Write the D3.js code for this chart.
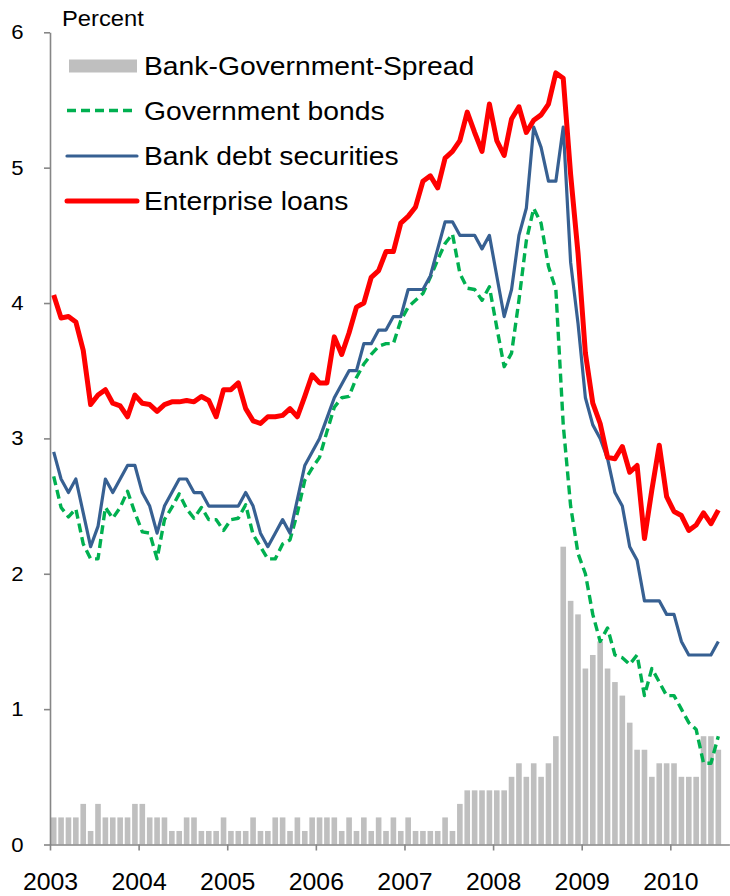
<!DOCTYPE html>
<html>
<head>
<meta charset="utf-8">
<script src="https://cdn.jsdelivr.net/npm/d3@7"></script>
<style>
  body { margin: 0; background: #fff; }
  svg { display: block; font-family: "Liberation Sans", Arial, sans-serif; }
</style>
</head>
<body>
<div id="chart"></div>
<script>
// monthly values, Jan 2003 - Jul 2010 (91 months), percent
var spread = [
  0.2,0.2,0.2,0.2,0.3,0.1,0.3,0.2,0.2,0.2,0.2,0.3,
  0.3,0.2,0.2,0.2,0.1,0.1,0.2,0.2,0.1,0.1,0.1,0.2,
  0.1,0.1,0.1,0.2,0.1,0.1,0.2,0.2,0.1,0.2,0.1,0.2,
  0.2,0.2,0.2,0.1,0.2,0.1,0.2,0.1,0.2,0.1,0.2,0.1,
  0.2,0.1,0.1,0.1,0.1,0.2,0.1,0.3,0.4,0.4,0.4,0.4,
  0.4,0.4,0.5,0.6,0.5,0.6,0.5,0.6,0.8,2.2,1.8,1.7,
  1.3,1.4,1.5,1.3,1.2,1.1,0.9,0.7,0.7,0.5,0.6,0.6,
  0.6,0.5,0.5,0.5,0.8,0.8,0.7
];
var govBonds = [
  2.72,2.49,2.42,2.48,2.22,2.11,2.11,2.49,2.41,2.49,2.61,2.45,
  2.31,2.30,2.11,2.40,2.49,2.59,2.48,2.41,2.49,2.40,2.40,2.32,
  2.40,2.41,2.51,2.29,2.20,2.11,2.11,2.22,2.25,2.45,2.69,2.78,
  2.86,3.05,3.23,3.30,3.31,3.45,3.55,3.62,3.68,3.70,3.70,3.87,
  3.97,4.02,4.07,4.19,4.32,4.44,4.51,4.22,4.11,4.10,4.02,4.12,
  3.82,3.53,3.63,4.02,4.46,4.70,4.59,4.27,4.10,3.10,2.50,2.15,
  2.00,1.70,1.50,1.60,1.40,1.38,1.33,1.40,1.10,1.30,1.20,1.10,
  1.10,1.00,0.90,0.85,0.60,0.60,0.80
];
var bankDebt = [
  2.9,2.7,2.6,2.7,2.45,2.2,2.35,2.7,2.6,2.7,2.8,2.8,
  2.6,2.5,2.3,2.5,2.6,2.7,2.7,2.6,2.6,2.5,2.5,2.5,
  2.5,2.5,2.6,2.5,2.3,2.2,2.3,2.4,2.3,2.55,2.8,2.9,
  3.0,3.15,3.3,3.4,3.5,3.5,3.7,3.7,3.8,3.8,3.9,3.9,
  4.1,4.1,4.1,4.2,4.4,4.6,4.6,4.5,4.5,4.5,4.4,4.5,
  4.2,3.9,4.1,4.5,4.7,5.3,5.15,4.9,4.9,5.3,4.3,3.85,
  3.3,3.1,3.0,2.85,2.6,2.5,2.2,2.1,1.8,1.8,1.8,1.7,
  1.7,1.5,1.4,1.4,1.4,1.4,1.5
];
var enterpriseLoans = [
  4.06,3.89,3.90,3.86,3.65,3.25,3.32,3.36,3.26,3.24,3.16,3.32,
  3.26,3.25,3.20,3.25,3.27,3.27,3.28,3.27,3.31,3.28,3.16,3.36,
  3.36,3.41,3.22,3.13,3.11,3.16,3.16,3.17,3.22,3.16,3.31,3.47,
  3.41,3.41,3.75,3.62,3.78,3.97,4.00,4.19,4.24,4.38,4.38,4.59,
  4.64,4.71,4.90,4.94,4.85,5.07,5.12,5.20,5.41,5.26,5.12,5.47,
  5.20,5.09,5.36,5.45,5.26,5.35,5.39,5.47,5.70,5.66,4.95,4.37,
  3.63,3.26,3.11,2.86,2.85,2.94,2.75,2.80,2.26,2.62,2.95,2.57,
  2.46,2.43,2.32,2.36,2.45,2.37,2.47
];
var yearLabels = ["2003","2004","2005","2006","2007","2008","2009","2010"];
var yTicks = [0, 1, 2, 3, 4, 5, 6];
var legendNames = ["Bank-Government-Spread", "Government bonds", "Bank debt securities", "Enterprise loans"];

var width = 730, height = 896;
var stretch = 1.08; // the reference text is drawn a little wide
var axisGrey = '#868686';

var svg = d3.select('#chart').append('svg')
    .attr('width', width)
    .attr('height', height);

// month index scale, one slot per month (plus one empty slot at the end)
var x = d3.scaleLinear().domain([0, 92]).range([50, 729.4]);
var y = d3.scaleLinear().domain([0, 6]).range([844.5, 32.3]);
var slot = x(1) - x(0);

// spread bars
svg.append('g')
  .selectAll('rect')
  .data(spread)
  .enter()
  .append('rect')
  .attr('x', (d, i) => x(i) + slot * 0.12)
  .attr('width', slot * 0.76)
  .attr('y', d => y(d))
  .attr('height', d => y(0) - y(d))
  .attr('fill', '#bfbfbf');

var line = d3.line()
    .x((d, i) => x(i + 0.5))
    .y(d => y(d));

var series = [
  {values: govBonds, color: '#00b050', w: 3.4, dash: '9,5'},
  {values: bankDebt, color: '#376092', w: 3.2, dash: null},
  {values: enterpriseLoans, color: '#ff0000', w: 5, dash: null}
];

series.forEach(function(s) {
  svg.append('path')
    .datum(s.values)
    .attr('d', line)
    .attr('fill', 'none')
    .attr('stroke', s.color)
    .attr('stroke-width', s.w)
    .attr('stroke-linejoin', 'round')
    .attr('stroke-dasharray', s.dash);
});

// axes
var yAxis = svg.append('g')
    .attr('transform', 'translate(' + x(0) + ',0)')
    .call(d3.axisLeft(y)
      .tickValues(yTicks)
      .tickFormat(d3.format('d'))
      .tickSize(6).tickSizeOuter(0).tickPadding(18.5));

var xAxis = svg.append('g')
    .attr('transform', 'translate(0,' + y(0) + ')')
    .call(d3.axisBottom(x)
      .tickValues(yearLabels.map((d, i) => i * 12))
      .tickFormat((d, i) => yearLabels[i])
      .tickSize(6).tickSizeOuter(0).tickPadding(23));

[yAxis, xAxis].forEach(function(a) {
  a.select('.domain').attr('stroke', axisGrey).attr('stroke-width', 1.6);
  a.selectAll('.tick line').attr('stroke', axisGrey).attr('stroke-width', 1.6);
  a.selectAll('.tick text').attr('fill', '#000');
});
yAxis.selectAll('.tick text')
  .attr('font-size', 20.5)
  .attr('transform', 'scale(' + stretch + ',1)');
xAxis.selectAll('.tick text')
  .attr('font-size', 23)
  .attr('transform', 'scale(' + stretch + ',1)');

// unit label
svg.append('text')
  .attr('transform', 'translate(62,26) scale(' + stretch + ',1)')
  .attr('font-size', 22)
  .text('Percent');

// legend
var legend = svg.append('g');
var rowY = [66, 110.5, 156, 201];

legend.append('rect')
  .attr('x', 69).attr('y', rowY[0] - 6.5)
  .attr('width', 68).attr('height', 13)
  .attr('fill', '#bfbfbf');

series.forEach(function(s, i) {
  legend.append('line')
    .attr('x1', 67).attr('x2', 137)
    .attr('y1', rowY[i + 1]).attr('y2', rowY[i + 1])
    .attr('stroke', s.color)
    .attr('stroke-width', s.w)
    .attr('stroke-linecap', s.dash ? 'butt' : 'round')
    .attr('stroke-dasharray', s.dash);
});

legendNames.forEach(function(name, i) {
  legend.append('text')
    .attr('transform', 'translate(144,' + (rowY[i] + 9) + ') scale(1.11,1)')
    .attr('font-size', 25.5)
    .text(name);
});
</script>
</body>
</html>
